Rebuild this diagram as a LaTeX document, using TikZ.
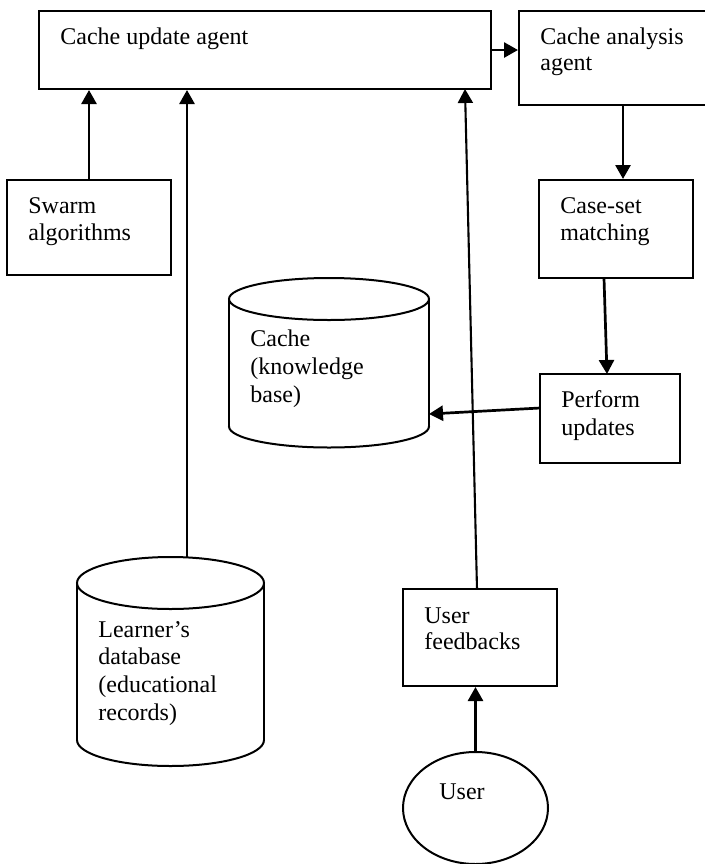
\documentclass[tikz,border=0pt]{standalone}
\usepackage{fontspec}
\setmainfont{Liberation Serif}
\usetikzlibrary{arrows.meta,fit,shapes.geometric}
\begin{document}
\begin{tikzpicture}[x=0.5pt,y=-0.5pt,
  box/.style={draw, line width=1pt, inner sep=0pt},
  shapebox/.style={inner sep=0pt},
  lbl/.style={anchor=base west, inner sep=0pt, font=\fontsize{12}{13.5}\selectfont},
  arr/.style={line width=1.35pt, -{Triangle[length=7pt,width=7.5pt]}},
  thin arr/.style={line width=1.05pt, -{Triangle[length=7pt,width=7.5pt]}}]
\useasboundingbox (0,0) rectangle (705,864);

% rectangles
\node[box, fit={(39,11) (491,89)}] (upd) {};
\node[box, fit={(519,11) (730,105)}] (ana) {};
\node[box, fit={(7,180) (171,275)}] (swarm) {};
\node[box, fit={(539,180) (693,278)}] (cs) {};
\node[box, fit={(540,374) (680,463)}] (perf) {};
\node[box, fit={(403,589) (557,686)}] (fb) {};
\node[draw, line width=1pt, ellipse, inner sep=0pt, minimum width=72.5pt, minimum height=56pt] (user) at (475.5,808) {};

% cylinders
\begin{scope}[line width=1pt]
  % cache
  \node[shapebox, fit={(229,278) (429,447)}] (cache) {};
  \draw (329,299) ellipse [x radius=100, y radius=21];
  \draw (229,299) -- (229,426.5);
  \draw (429,299) -- (429,426.5);
  \begin{scope}
    \clip (220,426.5) rectangle (440,460);
    \draw (329,426.5) ellipse [x radius=100, y radius=21];
  \end{scope}
  % learner database
  \node[shapebox, fit={(77,557) (264,766)}] (learner) {};
  \draw (170.5,583) ellipse [x radius=93.5, y radius=26];
  \draw (77,583) -- (77,740);
  \draw (264,583) -- (264,740);
  \begin{scope}
    \clip (70,740) rectangle (272,775);
    \draw (170.5,740) ellipse [x radius=93.5, y radius=26];
  \end{scope}
\end{scope}

% texts
\node[lbl] (t-upd) at (60,44) {Cache update agent};
\node[lbl] (t-ana1) at (540,44) {Cache analysis};
\node[lbl] (t-ana2) at (540,70.7) {agent};
\node[lbl] (t-sw1) at (28,213) {Swarm};
\node[lbl] (t-sw2) at (28,240) {algorithms};
\node[lbl] (t-cs1) at (560,213) {Case-set};
\node[lbl] (t-cs2) at (560,240) {matching};
\node[lbl] (t-ca1) at (250,346.7) {Cache};
\node[lbl] (t-ca2) at (250,374) {(knowledge};
\node[lbl] (t-ca3) at (250,402.7) {base)};
\node[lbl] (t-pf1) at (561,407) {Perform};
\node[lbl] (t-pf2) at (561,435) {updates};
\node[lbl] (t-ld1) at (98,637) {Learner’s};
\node[lbl] (t-ld2) at (98,664) {database};
\node[lbl] (t-ld3) at (98,692) {(educational};
\node[lbl] (t-ld4) at (98,720) {records)};
\node[lbl] (t-fb1) at (424,623) {User};
\node[lbl] (t-fb2) at (424,649) {feedbacks};
\node[lbl] (t-us) at (439,799) {User};

% connector end points
\coordinate (learnerT) at (187,557);
\coordinate (fbT) at (477,589);
\coordinate (updB3) at (465,89);
\coordinate (anaB) at (623,105);
\coordinate (csB) at (604,278);
\coordinate (perfT) at (607,374);
\coordinate (perfL) at (540,408);
\coordinate (cacheR) at (429,414);

% connectors
\draw[arr] (swarm.north) -- (swarm.north |- upd.south);
\draw[arr] (learnerT) -- (learnerT |- upd.south);
\draw[thin arr] (fbT) -- (updB3);
\draw[arr] (upd.east) -- (upd.east -| ana.west);
\draw[arr] (anaB) -- (anaB |- cs.north);
\draw[arr] (csB) -- (perfT);
\draw[arr] (perfL) -- (cacheR);
\draw[arr] (user.north) -- (user.north |- fb.south);
\end{tikzpicture}
\end{document}
